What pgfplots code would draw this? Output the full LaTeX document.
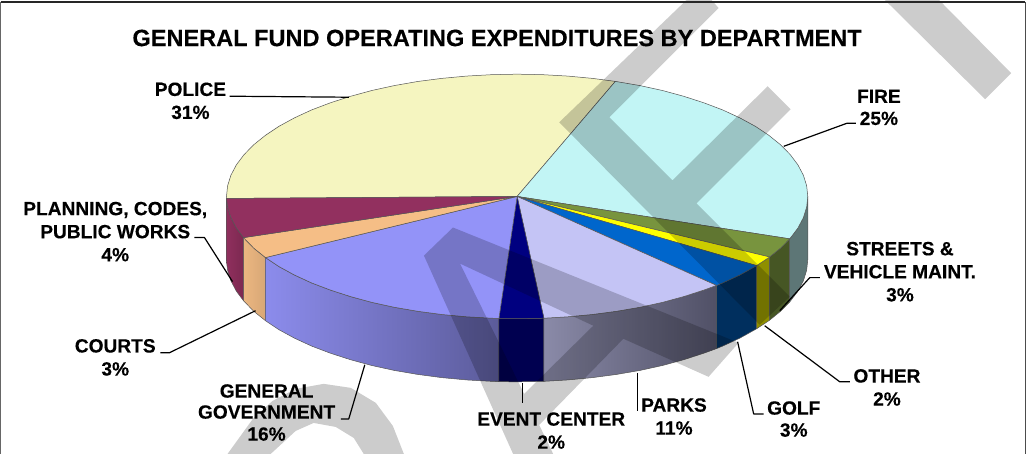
\documentclass[border=0pt]{standalone}
\usepackage{pgfplots}
\pgfplotsset{compat=1.18}
\usepackage{fontspec}
\setmainfont{Liberation Sans}
\newfontfamily\hv[FakeBold=0.25]{Liberation Sans Bold}
\definecolor{policeT}{HTML}{F5F5C0}
\definecolor{fireT}{HTML}{C2F5F5}
\definecolor{streetT}{HTML}{78943E}
\definecolor{otherT}{HTML}{FFFF00}
\definecolor{golfT}{HTML}{0066CC}
\definecolor{parksT}{HTML}{C4C4F5}
\definecolor{eventT}{HTML}{000080}
\definecolor{govT}{HTML}{9393F8}
\definecolor{courtT}{HTML}{F5BE86}
\definecolor{planT}{HTML}{92305F}
\definecolor{edge}{HTML}{555555}
\definecolor{parksL}{HTML}{8A8AA8}
\definecolor{parksR}{HTML}{505066}
\definecolor{golfS}{HTML}{002F5E}
\definecolor{eventS}{HTML}{000050}
\newcommand{\lbl}[3]{\node[anchor=base,inner sep=0pt,font=\fontsize{19.1}{20}\hv] at (axis cs:#1,#2+6.7) {#3};}
\begin{document}
\begin{tikzpicture}
\begin{axis}[
  width=1026pt,height=453pt,scale only axis,
  xmin=0,xmax=1026,ymin=0,ymax=453,y dir=reverse,hide axis,
  every axis plot/.append style={line width=0.5pt,draw=edge,line join=round}]
% --- side walls ---
\addplot[left color=black!2!planT,right color=black!15!planT] coordinates {(243,237.1)(235.9,227.6)(230.4,217.2)(227.1,206.6)(226,198)(226,261)(227.1,269.6)(230.4,280.2)(235.9,290.6)(243,300.1)} --cycle;
\addplot[left color=courtT!96!black,right color=courtT!88!black] coordinates {(264.9,257)(253.2,247.6)(243,237.1)(243,300.1)(253.2,310.6)(264.9,320)} --cycle;
\addplot[left color=govT!95!black,right color=govT!62!black] coordinates {(497.8,317.8)(490.7,317.5)(465.6,316.1)(440.9,313.8)(416.8,310.6)(393.4,306.6)(371,301.7)(349.7,295.9)(329.6,289.4)(310.9,282.3)(293.8,274.4)(278.4,266)(264.9,257)(264.9,320)(278.4,329)(293.8,337.4)(310.9,345.3)(329.6,352.4)(349.7,358.9)(371,364.7)(393.4,369.6)(416.8,373.6)(440.9,376.8)(465.6,379.1)(490.7,380.5)(497.8,380.8)} --cycle;
\addplot[fill=eventS] coordinates {(542.7,317.5)(516,318)(497.8,317.8)(497.8,380.8)(516,381)(542.7,380.5)} --cycle;
\addplot[left color=parksL,right color=parksR] coordinates {(715,284.8)(702.4,289.4)(682.3,295.9)(661,301.7)(638.6,306.6)(615.2,310.6)(591.1,313.8)(566.4,316.1)(542.7,317.5)(542.7,380.5)(566.4,379.1)(591.1,376.8)(615.2,373.6)(638.6,369.6)(661,364.7)(682.3,358.9)(702.4,352.4)(715,347.8)} --cycle;
\addplot[fill=golfS] coordinates {(755,265)(738.2,274.4)(721.1,282.3)(715,284.8)(715,347.8)(721.1,345.3)(738.2,337.4)(755,328)} --cycle;
\addplot[fill=otherT!56!black] coordinates {(768,256.4)(755,265)(755,328)(768,319.4)} --cycle;
\addplot[fill=streetT!58!black] coordinates {(788,238.3)(778.8,247.6)(768,256.4)(768,319.4)(778.8,310.6)(788,301.3)} --cycle;
\addplot[fill=fireT!48!black] coordinates {(806,196)(804.9,206.6)(801.6,217.2)(796.1,227.6)(788,238.3)(788,301.3)(796.1,290.6)(801.6,280.2)(804.9,269.6)(806,259)} --cycle;
% --- top wedges ---
\addplot[fill=policeT] coordinates {(516,196)(614,81.2)(591.1,78.2)(566.4,75.9)(541.3,74.5)(516,74)(490.7,74.5)(465.6,75.9)(440.9,78.2)(416.8,81.3)(393.4,85.4)(371,90.3)(349.7,96.1)(329.6,102.6)(310.9,109.7)(293.8,117.6)(278.4,126)(264.9,135)(253.2,144.4)(243.5,154.3)(235.9,164.4)(230.4,174.8)(227.1,185.4)(226,196)(226,198)} --cycle;
\addplot[fill=fireT] coordinates {(516,196)(614,81.2)(638.6,85.4)(661,90.3)(682.3,96.1)(702.4,102.6)(721.1,109.7)(738.2,117.6)(753.6,126)(767.1,135)(778.8,144.4)(788.5,154.3)(796.1,164.4)(801.6,174.8)(804.9,185.4)(806,196)(804.9,206.6)(801.6,217.2)(796.1,227.6)(788,238.3)} --cycle;
\addplot[fill=streetT] coordinates {(516,196)(788,238.3)(778.8,247.6)(768,256.4)} --cycle;
\addplot[fill=otherT] coordinates {(516,196)(768,256.4)(755,265)} --cycle;
\addplot[fill=golfT] coordinates {(516,196)(755,265)(738.2,274.4)(721.1,282.3)(715,284.8)} --cycle;
\addplot[fill=parksT] coordinates {(516,196)(715,284.8)(702.4,289.4)(682.3,295.9)(661,301.7)(638.6,306.6)(615.2,310.6)(591.1,313.8)(566.4,316.1)(542.7,317.5)} --cycle;
\addplot[fill=eventT] coordinates {(516,196)(542.7,317.5)(516,318)(497.8,317.8)} --cycle;
\addplot[fill=govT] coordinates {(516,196)(497.8,317.8)(490.7,317.5)(465.6,316.1)(440.9,313.8)(416.8,310.6)(393.4,306.6)(371,301.7)(349.7,295.9)(329.6,289.4)(310.9,282.3)(293.8,274.4)(278.4,266)(264.9,257)} --cycle;
\addplot[fill=courtT] coordinates {(516,196)(264.9,257)(253.2,247.6)(243,237.1)} --cycle;
\addplot[fill=planT] coordinates {(516,196)(243,237.1)(235.9,227.6)(230.4,217.2)(227.1,206.6)(226,198)} --cycle;
% --- watermark letters ---
\addplot[draw=none,fill=black,fill opacity=0.2] coordinates {(227,453)(240,435)(253,417)(272,400)(295,388)(323,383)(350,387)(375,402)(392,425)(403,453)(363,453)(353,437)(335,426)(313,422)(295,430)(282,442)(270,453)} --cycle;
\addplot[draw=none,fill=black,fill opacity=0.2] coordinates {(452,227)(737,342)(707,376)(622,338)(538,424)(552,453)(512,453)(423,255)(459,263)(523,393)(592,325)(459,263)(423,255)} --cycle;
\addplot[draw=none,fill=black,fill opacity=0.2] coordinates {(558,122)(685,0)(710,0)(717,8)(608,117)(671,180)(766,86)(789,109)(695,203)(788,296)(758,324)} --cycle;
\addplot[draw=none,fill=black,fill opacity=0.2] coordinates {(883,0)(983,99)(1009,73)(937,0)} --cycle;
% --- leader lines ---
\addplot[black,line width=1.2pt] coordinates {(229,96)(348,97)};
\addplot[black,line width=1.2pt] coordinates {(854,123)(845,123)(782,146)};
\addplot[black,line width=1.2pt] coordinates {(818,277)(808,277)(778,310)};
\addplot[black,line width=1.2pt] coordinates {(848,381)(838,381)(763,325)};
\addplot[black,line width=1.2pt] coordinates {(762,413)(752,413)(736,341)};
\addplot[black,line width=1.2pt] coordinates {(636,372)(636,410)};
\addplot[black,line width=1.2pt] coordinates {(521,382)(521,402)};
\addplot[black,line width=1.2pt] coordinates {(340,418)(348,418)(364,364)};
\addplot[black,line width=1.2pt] coordinates {(160,352)(169,352)(255,310)};
\addplot[black,line width=1.2pt] coordinates {(194,237)(204,237)(232,281)};
% --- frame ---
\addplot[color=black!60,line width=1.5pt] coordinates {(0.7,453)(0.7,2)};
\addplot[color=black!85,line width=1.2pt] coordinates {(0.7,2)(1023,2)};
\addplot[color=black!70,line width=1.5pt] coordinates {(1023,2)(1023,453)};
% --- text ---
\node[anchor=base,inner sep=0pt,font=\fontsize{23.5}{25}\hv] at (axis cs:496,46) {GENERAL FUND OPERATING EXPENDITURES BY DEPARTMENT};
\lbl{190}{89}{POLICE}\lbl{190}{112}{31\%}
\lbl{877}{96}{FIRE}\lbl{877}{118}{25\%}
\lbl{898}{248}{STREETS \&}\lbl{898}{271}{VEHICLE MAINT.}\lbl{898}{294}{3\%}
\lbl{885}{375}{OTHER}\lbl{885}{398}{2\%}
\lbl{792}{407}{GOLF}\lbl{792}{429}{3\%}
\lbl{672.5}{404}{PARKS}\lbl{672.5}{427}{11\%}
\lbl{550}{418}{EVENT CENTER}\lbl{550}{441}{2\%}
\lbl{266}{390}{GENERAL}\lbl{266}{411}{GOVERNMENT}\lbl{266}{433}{16\%}
\lbl{115}{345}{COURTS}\lbl{115}{368}{3\%}
\lbl{115}{208}{PLANNING, CODES,}\lbl{115}{231}{PUBLIC WORKS}\lbl{115}{254}{4\%}
\end{axis}
\end{tikzpicture}
\end{document}
